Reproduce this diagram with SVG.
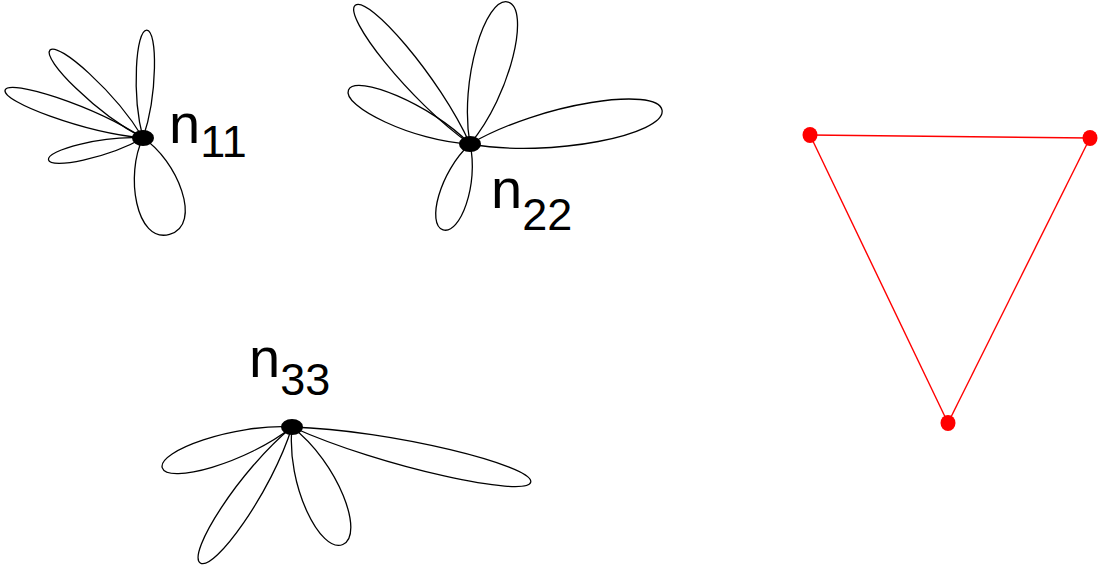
<svg xmlns="http://www.w3.org/2000/svg" width="1098" height="571" viewBox="0 0 1098 571">
<style>
.petal{fill:none;stroke:#000;stroke-width:1.3;vector-effect:non-scaling-stroke}
.hub{fill:#000}
.lbl{font-family:"Liberation Sans",Arial,sans-serif;font-size:56px;fill:#000}
.sub{font-size:45px}
.edge{stroke:#ff0000;stroke-width:1.4;fill:none}
.rdot{fill:#ff0000}
</style>
<rect width="1098" height="571" fill="#fff"/>
<g id="n11">
<path class="petal" d="M0,0 C0.4,-1.3 1,-1.1 1,0 C1,1.1 0.4,1.3 0,0" transform="translate(143,138) rotate(-88) scale(108,10)"/>
<path class="petal" d="M0,0 C0.4,-1.3 1,-1.1 1,0 C1,1.1 0.4,1.3 0,0" transform="translate(143,138) rotate(-136.6) scale(128,11)"/>
<path class="petal" d="M0,0 C0.4,-1.3 1,-1.1 1,0 C1,1.1 0.4,1.3 0,0" transform="translate(143,138) rotate(-160.8) scale(146,11)"/>
<path class="petal" d="M0,0 C0.4,-1.3 1,-1.1 1,0 C1,1.1 0.4,1.3 0,0" transform="translate(143,138) rotate(167) scale(97,9)"/>
<path class="petal" d="M0,0 C0.3,-1 1,-1.3 1,0 C1,1.3 0.3,1 0,0" transform="translate(143,138) rotate(74.6) scale(100,27)"/>
<ellipse class="hub" cx="143" cy="138" rx="11" ry="8"/>
<text class="lbl" x="169" y="143">n<tspan class="sub" dy="14">11</tspan></text>
</g>
<g id="n22">
<path class="petal" d="M0,0 C0.4,-1.3 1,-1.1 1,0 C1,1.1 0.4,1.3 0,0" transform="translate(470,144) rotate(-75) scale(147,21)"/>
<path class="petal" d="M0,0 C0.4,-1.3 1,-1.1 1,0 C1,1.1 0.4,1.3 0,0" transform="translate(470,144) rotate(-129.6) scale(180,15)"/>
<path class="petal" d="M0,0 C0.4,-1.3 1,-1.1 1,0 C1,1.1 0.4,1.3 0,0" transform="translate(470,144) rotate(-156) scale(133,16)"/>
<path class="petal" d="M0,0 C0.4,-1.3 1,-1.1 1,0 C1,1.1 0.4,1.3 0,0" transform="translate(470,144) rotate(-10) scale(195,22)"/>
<path class="petal" d="M0,0 C0.4,-1.3 1,-1.1 1,0 C1,1.1 0.4,1.3 0,0" transform="translate(470,144) rotate(107.4) scale(90,16)"/>
<ellipse class="hub" cx="470" cy="144" rx="11" ry="8"/>
<text class="lbl" x="491" y="208">n<tspan class="sub" dy="22">22</tspan></text>
</g>
<g id="n33">
<path class="petal" d="M0,0 C0.4,-1.3 1,-1.1 1,0 C1,1.1 0.4,1.3 0,0" transform="translate(292,427) rotate(13) scale(245,15)"/>
<path class="petal" d="M0,0 C0.4,-1.3 1,-1.1 1,0 C1,1.1 0.4,1.3 0,0" transform="translate(292,427) rotate(162.5) scale(136,16)"/>
<path class="petal" d="M0,0 C0.4,-1.3 1,-1.1 1,0 C1,1.1 0.4,1.3 0,0" transform="translate(292,427) rotate(124) scale(164,15)"/>
<path class="petal" d="M0,0 C0.4,-1.3 1,-1.1 1,0 C1,1.1 0.4,1.3 0,0" transform="translate(292,427) rotate(66.6) scale(128,22)"/>
<ellipse class="hub" cx="292" cy="427" rx="11" ry="8"/>
<text class="lbl" x="249" y="377">n<tspan class="sub" dy="18">33</tspan></text>
</g>
<g id="connectors">
<line class="edge" x1="810" y1="135" x2="1090" y2="138"/>
<line class="edge" x1="810" y1="135" x2="948" y2="423"/>
<line class="edge" x1="1090" y1="138" x2="948" y2="423"/>
</g>
<g id="t1"><ellipse class="rdot" cx="810" cy="135" rx="7.5" ry="8"/></g>
<g id="t2"><ellipse class="rdot" cx="1090" cy="138" rx="7.5" ry="8"/></g>
<g id="t3"><ellipse class="rdot" cx="948" cy="423" rx="7.5" ry="8"/></g>
</svg>
